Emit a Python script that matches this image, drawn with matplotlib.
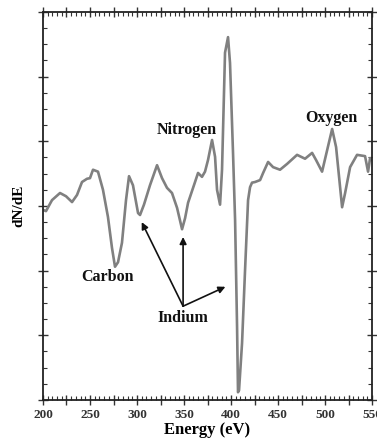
import matplotlib
matplotlib.use("Agg")
import matplotlib.pyplot as plt
from matplotlib.ticker import MultipleLocator, FuncFormatter

# traced spectrum (energy in eV, dN/dE in arbitrary units)
energy = [200, 203.2, 209.6, 218.1, 224.5, 230.9, 236.2, 241.5, 246.8, 250, 253.2, 258.5,
          263.8, 269.1, 273.4, 276.6, 279.8, 284, 288.3, 291.5, 295.7, 301.1, 303.2,
          307.4, 313.8, 321.3, 326.6, 331.9, 337.2, 342.6, 347.9, 351.1, 354.3, 361.7,
          364.9, 369.1, 372.3, 375.5, 379.8, 383, 385.1, 388.3, 390.4, 393.6, 396.8,
          398.9, 402.1, 404.3, 406.4, 407.4, 408.5, 411.7, 414.9, 418.1, 420.2, 422.3,
          425.5, 430.9, 434.1, 439.4, 444.7, 452.1, 459.6, 470.2, 478.7, 486.2, 490.4,
          496.8, 507.5, 511.7, 518.1, 521.3, 526.6, 534, 542.5, 545.7, 547.9, 550]
dnde = [2.94, 2.92, 3.09, 3.20, 3.15, 3.06, 3.17, 3.37, 3.42, 3.43, 3.56, 3.53,
        3.25, 2.83, 2.35, 2.06, 2.13, 2.43, 3.09, 3.46, 3.32, 2.89, 2.86,
        3.02, 3.32, 3.63, 3.43, 3.28, 3.20, 2.97, 2.64, 2.81, 3.05, 3.37,
        3.51, 3.45, 3.53, 3.71, 4.02, 3.76, 3.25, 3.02, 3.56, 5.37, 5.61,
        5.21, 3.82, 2.78, 1.13, 0.12, 0.15, 0.88, 2.01, 3.09, 3.29, 3.36,
        3.37, 3.40, 3.51, 3.68, 3.60, 3.56, 3.65, 3.79, 3.73, 3.82, 3.71,
        3.53, 4.19, 3.91, 2.98, 3.20, 3.60, 3.79, 3.77, 3.53, 3.74, 3.71]

labels = ["Carbon", "Nitrogen", "Oxygen", "Indium"]
label_x = [269, 353, 507, 349]
label_y = [1.90, 4.17, 4.36, 1.27]

indium_from = (349, 1.45)
indium_to = [(305, 2.75), (349, 2.52), (394, 1.75)]

serif = ["Liberation Serif", "DejaVu Serif"]

fig = plt.figure(figsize=(3.77, 4.41), dpi=100)
ax = fig.add_axes([0.114, 0.093, 0.873, 0.880])

ax.plot(energy, dnde, color="#808080", lw=1.9, solid_joinstyle="round")

ax.set_xlim(200, 550)
ax.set_ylim(0, 6)

ax.xaxis.set_major_locator(MultipleLocator(25))
ax.xaxis.set_minor_locator(MultipleLocator(5))
ax.xaxis.set_major_formatter(FuncFormatter(lambda v, p: "%d" % v if v % 50 == 0 else ""))
ax.yaxis.set_major_locator(MultipleLocator(1))
ax.yaxis.set_minor_locator(MultipleLocator(0.25))
ax.set_yticklabels([])

ax.tick_params(which="major", direction="inout", length=7, width=1, color="#333333",
               top=True, right=True, labelsize=9.5, pad=3)
ax.tick_params(which="minor", direction="in", length=3, width=0.8, color="#333333",
               top=True, right=True)
for lab in ax.get_xticklabels():
    lab.set_family(serif)
    lab.set_fontweight("bold")
    lab.set_color("#333333")

for s in ax.spines.values():
    s.set_linewidth(1.3)
    s.set_color("#222222")

ax.set_xlabel("Energy (eV)", family=serif, fontweight="bold", fontsize=12, labelpad=1)
ax.set_ylabel("dN/dE", family=serif, fontweight="bold", fontsize=11, labelpad=6)

for t, x, y in zip(labels, label_x, label_y):
    ax.text(x, y, t, family=serif, fontweight="bold", fontsize=11.5,
            ha="center", va="center", color="#111111")

for tip in indium_to:
    ax.annotate("", xy=tip, xytext=indium_from,
                arrowprops=dict(arrowstyle="-|>", color="#111111", lw=1.2,
                                mutation_scale=10, shrinkA=0, shrinkB=0))

fig.savefig("out.png", dpi=100)
